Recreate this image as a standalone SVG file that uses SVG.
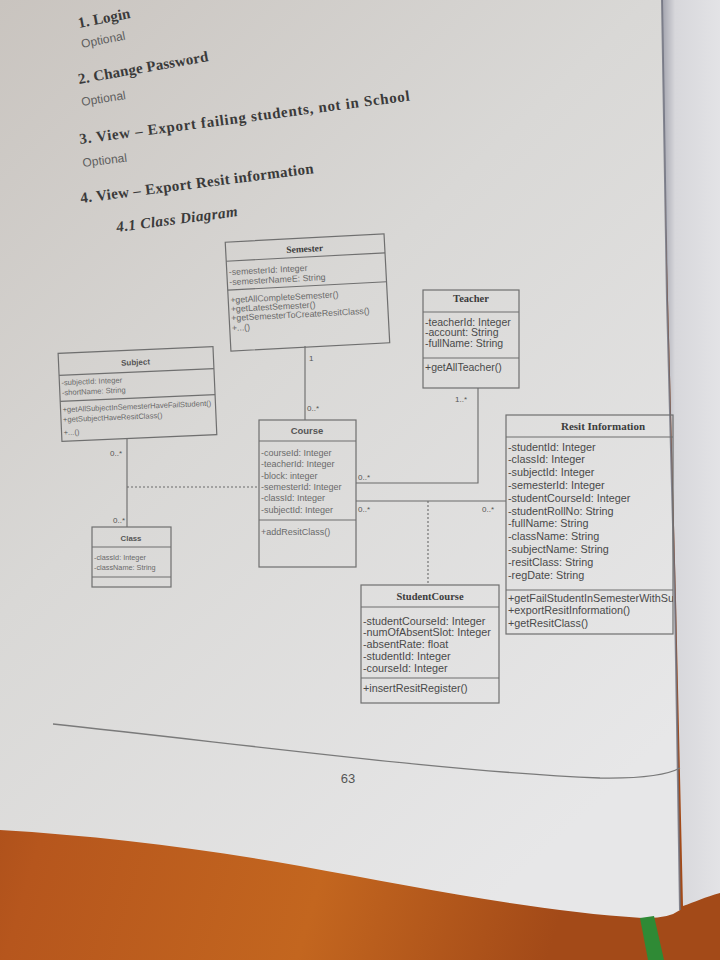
<svg xmlns="http://www.w3.org/2000/svg" width="720" height="960" viewBox="0 0 720 960">
<defs>
<linearGradient id="wood" x1="0" y1="0" x2="1" y2="0.4">
<stop offset="0" stop-color="#8a3a13"/>
<stop offset="0.35" stop-color="#b6561d"/>
<stop offset="0.7" stop-color="#c3661f"/>
<stop offset="1" stop-color="#a34a18"/>
</linearGradient>
<linearGradient id="page" x1="0" y1="0" x2="0.7" y2="1">
<stop offset="0" stop-color="#c9c4bf"/>
<stop offset="0.45" stop-color="#d9d8d6"/>
<stop offset="1" stop-color="#e7e7e8"/>
</linearGradient>
<linearGradient id="side" x1="0" y1="0" x2="1" y2="0">
<stop offset="0" stop-color="#9a9ba6"/>
<stop offset="0.25" stop-color="#d7d7db"/>
<stop offset="1" stop-color="#e3e3e6"/>
</linearGradient>
<clipPath id="resitClip"><rect x="506" y="415" width="167" height="219"/></clipPath>
<style>
.box{fill:none;stroke:#6f6f6f;stroke-width:1.2}
.div{stroke:#6f6f6f;stroke-width:1.1}
.t{font-family:"Liberation Sans","Open Sans",sans-serif;fill:#4a4a4a}
.tl{font-family:"Liberation Sans","Open Sans",sans-serif;fill:#6a6a6a}
.ttl{font-family:"Liberation Serif","DejaVu Serif",serif;font-weight:bold;fill:#3c3c3c;text-anchor:middle}
.ttls{font-family:"Liberation Sans","Open Sans",sans-serif;font-weight:bold;fill:#555;text-anchor:middle}
.h{font-family:"Liberation Serif","DejaVu Serif",serif;font-weight:bold;fill:#3a3a3a;font-size:15px}
.opt{font-family:"Liberation Sans","Open Sans",sans-serif;fill:#5e5e5e;font-size:12px}
.ln{fill:none;stroke:#6a6a6a;stroke-width:1.1}
.dot{fill:none;stroke:#6a6a6a;stroke-width:1.1;stroke-dasharray:2,2}
.lbl{font-family:"Liberation Sans","Open Sans",sans-serif;fill:#555;font-size:8px}
</style>
</defs>

<!-- scene -->
<rect x="0" y="0" width="720" height="960" fill="url(#wood)"/>
<path d="M660,0 H720 V893 C 705,897 695,902 683,906 L676,600 L668,300 Z" fill="url(#side)"/>
<path d="M0,0 H662 L667,300 L675,600 L680,910 Q 668,919 642,918 C 540,912 420,888 300,866 C 200,848 100,836 0,830 Z" fill="url(#page)"/>
<path d="M662,0 L667,300 L675,600 L680,910" fill="none" stroke="#6c6e7c" stroke-width="2" opacity="0.8"/>
<path d="M640,918 L654,916 L664,960 L648,960 Z" fill="#2f8a35"/>

<!-- page texts -->
<g id="headings">
<text class="h" transform="translate(79,28) rotate(-11)" textLength="53" lengthAdjust="spacing">1. Login</text>
<text class="opt" transform="translate(82,48) rotate(-11)">Optional</text>
<text class="h" transform="translate(79,84) rotate(-10)" textLength="132" lengthAdjust="spacing">2. Change Password</text>
<text class="opt" transform="translate(82,106) rotate(-9)">Optional</text>
<text class="h" transform="translate(80,144) rotate(-7.5)" textLength="333" lengthAdjust="spacing">3. View – Export failing students, not in School</text>
<text class="opt" transform="translate(83,167) rotate(-7)">Optional</text>
<text class="h" transform="translate(81,203) rotate(-7.3)" textLength="235" lengthAdjust="spacing">4. View – Export Resit information</text>
<text class="h" font-style="italic" transform="translate(117,232) rotate(-7.5)" textLength="122" lengthAdjust="spacing">4.1  Class Diagram</text>
</g>

<!-- connectors -->
<g id="connectors">
<path class="ln" d="M305,346 V420"/>
<path class="ln" d="M478,388 V483 H356"/>
<path class="ln" d="M356,501 H506"/>
<path class="dot" d="M428,501 V585"/>
<path class="ln" d="M127,438 V527"/>
<path class="dot" d="M127,487 H259"/>
<text class="lbl" x="309" y="361">1</text>
<text class="lbl" x="307" y="411">0..*</text>
<text class="lbl" x="455" y="402">1..*</text>
<text class="lbl" x="358" y="480">0..*</text>
<text class="lbl" x="358" y="512">0..*</text>
<text class="lbl" x="482" y="512">0..*</text>
<text class="lbl" x="110" y="456">0..*</text>
<text class="lbl" x="113" y="523">0..*</text>
</g>

<g id="semester" transform="rotate(-3 307 293)">
<rect class="box" x="228" y="238" width="159" height="109"/>
<line class="div" x1="228" y1="257" x2="387" y2="257"/>
<line class="div" x1="228" y1="286" x2="387" y2="286"/>
<text class="ttl" x="307" y="252" font-size="9.5">Semester</text>
<g class="tl" font-size="8.8">
<text x="230" y="271">-semesterId: Integer</text>
<text x="230" y="281">-semesterNameE: String</text>
<text x="230" y="299">+getAllCompleteSemester()</text>
<text x="230" y="308">+getLatestSemester()</text>
<text x="230" y="317">+getSemesterToCreateResitClass()</text>
<text x="230" y="327">+...()</text>
</g>
</g>

<g id="subject" transform="rotate(-2.5 137 395)">
<rect class="box" x="60" y="350" width="155" height="88"/>
<line class="div" x1="60" y1="372" x2="215" y2="372"/>
<line class="div" x1="60" y1="398" x2="215" y2="398"/>
<text class="ttls" x="137" y="365" font-size="8">Subject</text>
<g class="tl" font-size="7.6">
<text x="62" y="382">-subjectId: Integer</text>
<text x="62" y="392">-shortName: String</text>
<text x="62" y="409">+getAllSubjectInSemesterHaveFailStudent()</text>
<text x="62" y="419">+getSubjectHaveResitClass()</text>
<text x="62" y="432">+...()</text>
</g>
</g>

<g id="teacher">
<rect class="box" x="423" y="290" width="96" height="98"/>
<line class="div" x1="423" y1="312" x2="519" y2="312"/>
<line class="div" x1="423" y1="358" x2="519" y2="358"/>
<text class="ttl" x="471" y="302" font-size="10.5">Teacher</text>
<g class="t" font-size="10.5">
<text x="425" y="325.5">-teacherId: Integer</text>
<text x="425" y="336">-account: String</text>
<text x="425" y="346.5">-fullName: String</text>
<text x="425" y="371">+getAllTeacher()</text>
</g>
</g>

<g id="course">
<rect class="box" x="259" y="420" width="97" height="147"/>
<line class="div" x1="259" y1="441" x2="356" y2="441"/>
<line class="div" x1="259" y1="520" x2="356" y2="520"/>
<text class="ttls" x="307" y="434" font-size="9.5">Course</text>
<g class="tl" font-size="9">
<text x="261" y="455.7">-courseId: Integer</text>
<text x="261" y="467.1">-teacherId: Integer</text>
<text x="261" y="478.5">-block: integer</text>
<text x="261" y="489.9">-semesterId: Integer</text>
<text x="261" y="501.3">-classId: Integer</text>
<text x="261" y="512.7">-subjectId: Integer</text>
<text x="261" y="535">+addResitClass()</text>
</g>
</g>

<g id="resit-information">
<rect class="box" x="506" y="415" width="167" height="219"/>
<line class="div" x1="506" y1="437" x2="673" y2="437"/>
<line class="div" x1="506" y1="590" x2="673" y2="590"/>
<text class="ttl" x="603" y="430" font-size="11">Resit Information</text>
<g class="t" font-size="10.8" clip-path="url(#resitClip)">
<text x="508" y="450.5">-studentId: Integer</text>
<text x="508" y="463.3">-classId: Integer</text>
<text x="508" y="476.1">-subjectId: Integer</text>
<text x="508" y="488.9">-semesterId: Integer</text>
<text x="508" y="501.7">-studentCourseId: Integer</text>
<text x="508" y="514.5">-studentRollNo: String</text>
<text x="508" y="527.3">-fullName: String</text>
<text x="508" y="540.1">-className: String</text>
<text x="508" y="552.9">-subjectName: String</text>
<text x="508" y="565.7">-resitClass: String</text>
<text x="508" y="578.5">-regDate: String</text>
<text x="508" y="601.5">+getFailStudentInSemesterWithSubject()</text>
<text x="508" y="614">+exportResitInformation()</text>
<text x="508" y="626.5">+getResitClass()</text>
</g>
</g>

<g id="studentcourse">
<rect class="box" x="361" y="585" width="138" height="118"/>
<line class="div" x1="361" y1="607" x2="499" y2="607"/>
<line class="div" x1="361" y1="678" x2="499" y2="678"/>
<text class="ttl" x="430" y="600" font-size="10.5">StudentCourse</text>
<g class="t" font-size="10.8">
<text x="363" y="624.5">-studentCourseId: Integer</text>
<text x="363" y="636.3">-numOfAbsentSlot: Integer</text>
<text x="363" y="648.1">-absentRate: float</text>
<text x="363" y="659.9">-studentId: Integer</text>
<text x="363" y="671.7">-courseId: Integer</text>
<text x="363" y="691.5">+insertResitRegister()</text>
</g>
</g>

<g id="class">
<rect class="box" x="92" y="527" width="79" height="60"/>
<line class="div" x1="92" y1="547" x2="171" y2="547"/>
<line class="div" x1="92" y1="577" x2="171" y2="577"/>
<text class="ttls" x="131" y="541" font-size="7.8">Class</text>
<g class="tl" font-size="7.3">
<text x="94" y="559.5">-classId: Integer</text>
<text x="94" y="569.5">-className: String</text>
</g>
</g>

<!-- footer -->
<path d="M53,724 C 250,745 450,772 600,778 Q 660,779 680,768" fill="none" stroke="#7a7a7a" stroke-width="1.3"/>
<text x="348" y="783" font-family="'Liberation Sans','Open Sans',sans-serif" font-size="13" fill="#555" text-anchor="middle">63</text>
</svg>
